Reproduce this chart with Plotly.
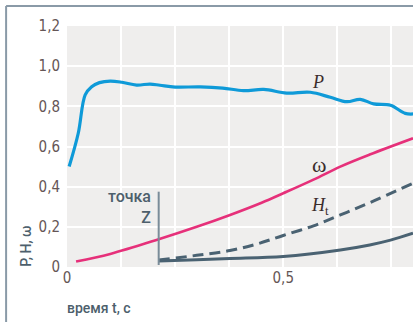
import plotly.graph_objects as go

# Data
p_t = [0.005, 0.026, 0.042, 0.057, 0.075, 0.1, 0.127, 0.161, 0.192, 0.215, 0.25, 0.308,
       0.36, 0.408, 0.455, 0.508, 0.5625, 0.609, 0.647, 0.678, 0.709, 0.748, 0.782, 0.80]
p_v = [0.50, 0.666, 0.857, 0.898, 0.918, 0.926, 0.92, 0.906, 0.911, 0.905, 0.896, 0.897,
       0.891, 0.878, 0.884, 0.866, 0.87, 0.845, 0.823, 0.835, 0.812, 0.805, 0.765, 0.762]

w_t = [0.021, 0.1, 0.212, 0.3, 0.377, 0.45, 0.5, 0.57, 0.632, 0.7, 0.8]
w_v = [0.027, 0.065, 0.138, 0.2, 0.259, 0.32, 0.367, 0.435, 0.5, 0.56, 0.641]

ht_t = [0.212, 0.3, 0.377, 0.44, 0.5, 0.57, 0.632, 0.7, 0.8]
ht_v = [0.035, 0.058, 0.082, 0.115, 0.157, 0.205, 0.259, 0.32, 0.417]

h_t = [0.212, 0.3, 0.377, 0.5, 0.632, 0.7, 0.748, 0.8]
h_v = [0.03, 0.036, 0.042, 0.052, 0.085, 0.11, 0.134, 0.168]

z_t = 0.212
z_range = [0.01, 0.375]

x_tickvals = [0, 0.5]
x_ticktext = ["0", "0,5"]
x_gridvals = [0.125, 0.25, 0.375, 0.5, 0.625, 0.75]
y_tickvals = [0, 0.2, 0.4, 0.6, 0.8, 1.0, 1.2]
y_ticktext = ["0", "0,2", "0,4", "0,6", "0,8", "1,0", "1,2"]

slate = "#4a6272"
tickcol = "#655656"
tickfont = dict(family="Liberation Sans Narrow, DejaVu Sans Condensed, Liberation Sans", size=15, color=tickcol)

fig = go.Figure()
fig.add_trace(go.Scatter(x=h_t, y=h_v, mode="lines", line=dict(color=slate, width=3, shape="spline"),
                         showlegend=False, hoverinfo="skip"))
fig.add_trace(go.Scatter(x=ht_t, y=ht_v, mode="lines",
                         line=dict(color=slate, width=3, dash="11px,6px", shape="spline"),
                         showlegend=False, hoverinfo="skip"))
fig.add_trace(go.Scatter(x=w_t, y=w_v, mode="lines", line=dict(color="#e6307a", width=2.6, shape="spline"),
                         showlegend=False, hoverinfo="skip"))
fig.add_trace(go.Scatter(x=p_t, y=p_v, mode="lines", line=dict(color="#0f9ad8", width=3.2, shape="spline"),
                         showlegend=False, hoverinfo="skip"))

fig.add_shape(type="line", xref="x", yref="y", x0=z_t, x1=z_t, y0=z_range[0], y1=z_range[1],
              line=dict(color="#7a8c99", width=2))

# frame (left + top)
fig.add_shape(type="line", xref="paper", yref="paper", x0=-0.176, x1=-0.176, y0=-0.3, y1=1.083,
              line=dict(color="#8a9aa7", width=2))
fig.add_shape(type="line", xref="paper", yref="paper", x0=-0.176, x1=1.05, y0=1.083, y1=1.083,
              line=dict(color="#8a9aa7", width=2))

lab_color = "#4d5f6c"
ann_font = dict(family="Roboto, Liberation Sans", size=16, color=lab_color, weight=500)
fig.add_annotation(x=0.199, y=0.298, xref="x", yref="y", text="точка<br>Z", showarrow=False,
                   xanchor="right", yanchor="middle", align="right", font=ann_font)
fig.add_annotation(x=0, y=-0.170, xref="paper", yref="paper", text="время t, с", showarrow=False,
                   xanchor="left", yanchor="middle",
                   font=dict(family="Roboto, Liberation Sans", size=14, color=lab_color, weight=500),
                   xshift=-2)
fig.add_annotation(x=-0.121, y=0.085, xref="paper", yref="paper", text="P, H, ω", showarrow=False,
                   textangle=-90, xanchor="center", yanchor="middle",
                   font=dict(family="Roboto, Liberation Sans", size=14, color=lab_color, weight=500))

serif = dict(family="Liberation Serif, DejaVu Serif", size=18, color="#3a2c2c")
fig.add_annotation(x=0.58, y=0.92, xref="x", yref="y", text="<i>P</i>", showarrow=False, font=serif)
fig.add_annotation(x=0.583, y=0.51, xref="x", yref="y", text="ω", showarrow=False,
                   font=dict(family="Liberation Serif, DejaVu Serif", size=22, color="#3a2c2c"))
fig.add_annotation(x=0.585, y=0.30, xref="x", yref="y", text="<i>H</i><sub>t</sub>", showarrow=False, font=serif)

fig.update_layout(
    width=413, height=322,
    margin=dict(l=67, r=0, t=26, b=55),
    paper_bgcolor="white", plot_bgcolor="#efeeed",
    xaxis=dict(range=[0, 0.8], tickvals=x_tickvals, ticktext=x_ticktext, showgrid=False,
               zeroline=False, showline=False, ticks="",
               minor=dict(tickvals=x_gridvals, showgrid=True, gridcolor="white", gridwidth=1.5, ticks=""),
               tickfont=tickfont, fixedrange=True),
    yaxis=dict(range=[0, 1.2], tickvals=y_tickvals, ticktext=y_ticktext, showgrid=True,
               gridcolor="white", gridwidth=1.5, zeroline=False, showline=False, ticks="",
               tickfont=tickfont, ticklabelstandoff=6, fixedrange=True),
)

fig.write_html("out.html")
